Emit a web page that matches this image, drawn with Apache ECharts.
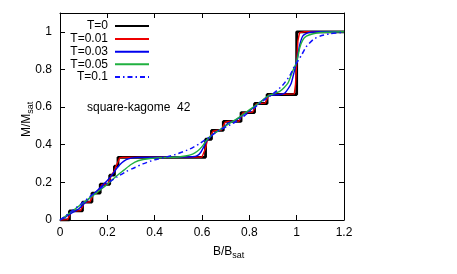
<!DOCTYPE html>
<html>
<head>
<meta charset="utf-8">
<script src="https://cdn.jsdelivr.net/npm/echarts@6/dist/echarts.min.js"></script>
<style>html,body{margin:0;padding:0;background:#fff}#c{width:457px;height:274px}</style>
</head>
<body>
<div id="c"></div>
<script>
// Tick labels
var xTicks = [0, 0.2, 0.4, 0.6, 0.8, 1, 1.2];
var yTicks = [0, 0.2, 0.4, 0.6, 0.8, 1];
var seriesNames = ['T=0', 'T=0.01', 'T=0.03', 'T=0.05', 'T=0.1'];

// T=0 staircase: [B/Bsat, M/Msat] after each riser
var t0 = [[0,0],[0.04,0.048],[0.095,0.095],[0.135,0.143],[0.17,0.19],[0.21,0.238],[0.23,0.286],[0.245,0.333],
  [0.615,0.429],[0.64,0.476],[0.69,0.524],[0.765,0.571],[0.822,0.619],[0.875,0.667],[1.0,1.0],[1.2,1.0]];

var t001 = [[0,0],[0.032,0.002],[0.04,0.024],[0.048,0.046],[0.06,0.048],
  [0.087,0.05],[0.095,0.072],[0.103,0.093],[0.115,0.095],
  [0.127,0.097],[0.135,0.119],[0.143,0.141],[0.155,0.143],
  [0.163,0.145],[0.17,0.167],[0.177,0.188],[0.19,0.19],
  [0.203,0.192],[0.21,0.214],[0.216,0.236],[0.222,0.24],[0.23,0.262],[0.236,0.284],[0.24,0.288],[0.245,0.31],[0.252,0.33],[0.265,0.333],
  [0.6,0.335],[0.608,0.345],[0.615,0.381],[0.622,0.42],[0.63,0.43],[0.635,0.445],[0.64,0.452],[0.647,0.472],[0.66,0.476],
  [0.682,0.478],[0.69,0.5],[0.698,0.52],[0.71,0.524],
  [0.757,0.526],[0.765,0.548],[0.773,0.569],[0.785,0.571],
  [0.814,0.573],[0.822,0.595],[0.83,0.617],[0.842,0.619],
  [0.867,0.621],[0.875,0.643],[0.883,0.665],[0.9,0.667],
  [0.99,0.67],[0.995,0.72],[1.0,0.833],[1.005,0.95],[1.012,0.995],[1.03,1],[1.2,1]];

var t003 = [[0,0],[0.02,0.012],[0.04,0.03],[0.06,0.045],[0.08,0.06],[0.1,0.085],[0.12,0.11],[0.14,0.135],[0.16,0.16],
  [0.18,0.185],[0.2,0.21],[0.22,0.24],[0.24,0.275],[0.26,0.303],[0.28,0.321],[0.3,0.329],[0.33,0.333],[0.5,0.334],
  [0.56,0.336],[0.58,0.342],[0.595,0.36],[0.61,0.395],[0.62,0.42],[0.635,0.44],[0.65,0.46],[0.67,0.475],[0.69,0.49],
  [0.71,0.515],[0.74,0.53],[0.76,0.545],[0.78,0.565],[0.8,0.58],[0.82,0.6],[0.84,0.62],[0.86,0.64],[0.88,0.658],
  [0.9,0.664],[0.93,0.667],[0.95,0.675],[0.965,0.7],[0.977,0.727],[0.99,0.79],[1.0,0.84],[1.013,0.93],[1.027,0.98],
  [1.05,0.996],[1.1,1],[1.2,1]];

var t005 = [[0,0],[0.05,0.045],[0.1,0.093],[0.15,0.14],[0.2,0.19],[0.24,0.235],[0.27,0.265],[0.3,0.295],[0.33,0.315],
  [0.38,0.327],[0.45,0.333],[0.5,0.335],[0.53,0.34],[0.56,0.35],[0.58,0.365],[0.6,0.39],[0.62,0.425],[0.64,0.45],
  [0.67,0.475],[0.7,0.5],[0.75,0.54],[0.8,0.585],[0.85,0.63],[0.88,0.66],[0.93,0.685],[0.963,0.727],[0.984,0.795],
  [1.0,0.84],[1.013,0.915],[1.025,0.955],[1.041,0.977],[1.07,0.99],[1.1,0.996],[1.2,1]];

var t01 = [[0,0],[0.05,0.047],[0.1,0.097],[0.15,0.148],[0.2,0.195],[0.24,0.228],[0.28,0.258],[0.31,0.275],[0.35,0.298],
  [0.4,0.32],[0.45,0.335],[0.5,0.353],[0.55,0.378],[0.59,0.406],[0.63,0.44],[0.67,0.475],[0.73,0.513],[0.78,0.555],
  [0.83,0.605],[0.87,0.645],[0.9,0.67],[0.94,0.715],[0.97,0.765],[0.99,0.815],[1.02,0.875],[1.04,0.92],[1.07,0.959],
  [1.1,0.978],[1.14,0.99],[1.2,0.997]];

var FONT = 'Liberation Sans, Arial, sans-serif';
var colors = ['#000000', '#ee0000', '#0000ee', '#20b040', '#1010ff'];
var legendTops = [27, 40, 52.7, 65.3, 78];

var legends = seriesNames.map(function (n, i) {
  return {
    data: [n], orient: 'vertical', right: 307, top: legendTops[i] - 7, align: 'right',
    padding: 0, itemWidth: 34, itemHeight: 14, itemGap: 0, selectedMode: false,
    itemStyle: { opacity: 0 },
    textStyle: { fontSize: 12, color: '#000', fontFamily: FONT, padding: [0, 2, 0, 0] }
  };
});

var chart = echarts.init(document.getElementById('c'), null, { renderer: 'canvas' });
var axisCommon = {
  axisLine: { show: true, onZero: false, lineStyle: { color: '#000', width: 1 } },
  axisTick: { show: true, inside: true, length: 5, lineStyle: { color: '#000' } },
  splitLine: { show: false }
};
chart.setOption({
  animation: false,
  backgroundColor: '#fff',
  grid: { left: 60, right: 113, top: 13, bottom: 54 },
  legend: legends,
  xAxis: [
    Object.assign({ type: 'value', min: 0, max: 1.2, interval: 0.2, position: 'bottom',
      axisLabel: { color: '#000', fontSize: 12, fontFamily: FONT, margin: 7 } }, axisCommon),
    Object.assign({ type: 'value', min: 0, max: 1.2, interval: 0.2, position: 'top',
      axisLabel: { show: false } }, axisCommon)
  ],
  yAxis: [
    Object.assign({ type: 'value', min: 0, max: 1.1, interval: 0.2, position: 'left',
      axisLabel: { color: '#000', fontSize: 12, fontFamily: FONT, margin: 8,
        formatter: function (v) { return yTicks.indexOf(Math.round(v * 10) / 10) >= 0 ? String(Math.round(v * 10) / 10) : ''; } } }, axisCommon),
    Object.assign({ type: 'value', min: 0, max: 1.1, interval: 0.2, position: 'right',
      axisLabel: { show: false } }, axisCommon)
  ],
  series: [
    { name: seriesNames[0], type: 'line', data: t0, step: 'end', showSymbol: false, symbol: 'none',
      lineStyle: { color: colors[0], width: 2.8 }, itemStyle: { color: colors[0] } },
    { name: seriesNames[1], type: 'line', data: t001, showSymbol: false, symbol: 'none',
      lineStyle: { color: colors[1], width: 1.4 }, itemStyle: { color: colors[1] } },
    { name: seriesNames[2], type: 'line', data: t003, smooth: 0.2, showSymbol: false, symbol: 'none',
      lineStyle: { color: colors[2], width: 1.4 }, itemStyle: { color: colors[2] } },
    { name: seriesNames[3], type: 'line', data: t005, smooth: 0.2, showSymbol: false, symbol: 'none',
      lineStyle: { color: colors[3], width: 1.4 }, itemStyle: { color: colors[3] } },
    { name: seriesNames[4], type: 'line', data: t01, smooth: 0.2, showSymbol: false, symbol: 'none',
      lineStyle: { color: colors[4], width: 1.5, type: [5, 3, 1.5, 3] }, itemStyle: { color: colors[4] } }
  ],
  graphic: [
    { type: 'text', left: 87, top: 102, style: { text: 'square-kagome  42', fontSize: 12, fontFamily: FONT, fill: '#000' } },
    { type: 'text', x: 213, y: 246, style: {
      text: '{a|B/B}{b|sat}', fontFamily: FONT, fill: '#000',
      rich: { a: { fontSize: 12, fontFamily: FONT, lineHeight: 14, verticalAlign: 'top' },
              b: { fontSize: 9, fontFamily: FONT, padding: [5, 0, 0, 0], verticalAlign: 'top' } } } },
    { type: 'text', x: 21, y: 137, rotation: Math.PI / 2, style: {
      text: '{a|M/M}{b|sat}', fontFamily: FONT, fill: '#000',
      rich: { a: { fontSize: 12, fontFamily: FONT, lineHeight: 14, verticalAlign: 'top' },
              b: { fontSize: 9, fontFamily: FONT, padding: [5, 0, 0, 0], verticalAlign: 'top' } } } }
  ]
});
</script>
</body>
</html>
